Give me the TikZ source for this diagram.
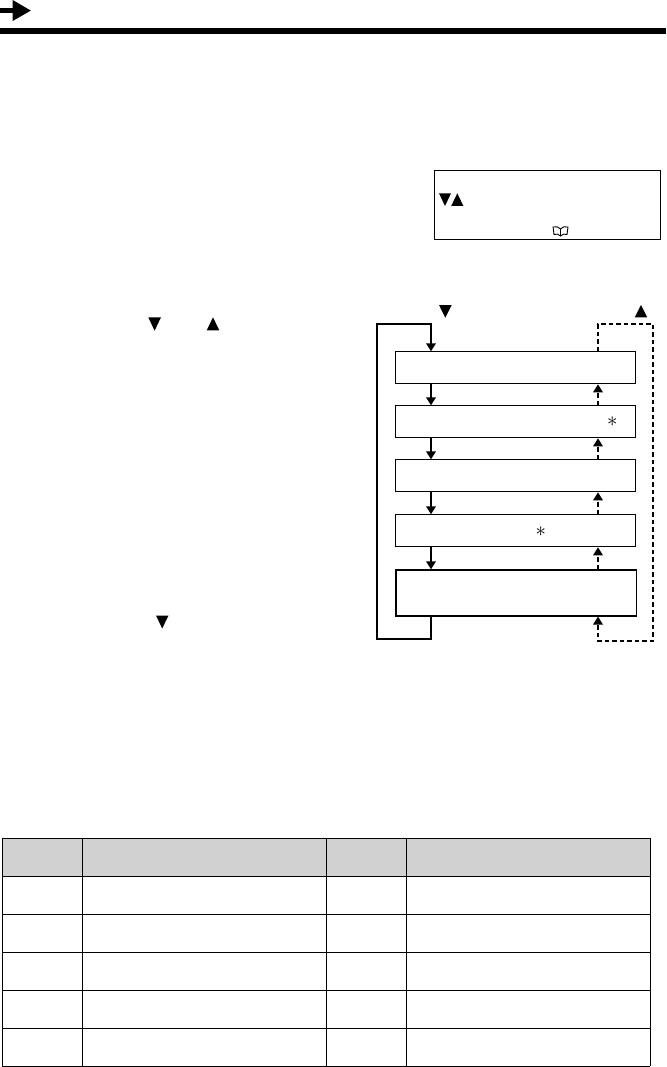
\documentclass[tikz,border=0pt]{standalone}
\usetikzlibrary{arrows.meta}
\tikzset{
  flowbox/.style={draw,line width=1pt,minimum width=240pt,minimum height=32pt,inner sep=0pt,anchor=north west},
  tri/.style={fill=black,draw=none},
  solidarrow/.style={line width=2pt,-{Triangle[width=9.5pt,length=8pt]}},
  dashpath/.style={line width=1.7pt,dash pattern=on 4.5pt off 3pt},
  dasharrow/.style={dashpath,-{Triangle[width=9.5pt,length=8pt]}},
  grid/.style={line width=1.1pt},
  star/.style={inner sep=0pt,font=\fontsize{22}{22}\selectfont}
}
\begin{document}
\begin{tikzpicture}[x=1pt,y=-1pt]
\useasboundingbox (0,0) rectangle (666,1067);
% header
\fill (0,8) rectangle (13,13.4);
\fill[tri] (12.7,0) -- (30.8,10.6) -- (12.7,21) -- cycle;
\fill (0,28.3) rectangle (666,34.4);
% info box
\draw[line width=1pt] (434.3,170.3) rectangle (660.7,240);
\fill[tri] (439,193.3) -- (451,193.3) -- (445,206) -- cycle;
\fill[tri] (451.2,206) -- (463.4,206) -- (457.3,193.3) -- cycle;
\draw[line width=.9pt,fill=white] (553,227) .. controls (556,226) and (559,227) .. (560.5,229)
  .. controls (562,227) and (565,226) .. (568,227) -- (567,234.5) .. controls (565,233.5) and (562,234) .. (560.5,236)
  .. controls (559,234) and (556,233.5) .. (554,234.5) -- cycle (560.5,229) -- (560.5,236);
% step triangles
\fill[tri] (148.3,317.3) -- (161,317.3) -- (154.6,330.7) -- cycle;
\fill[tri] (206.7,330.4) -- (219.3,330.4) -- (213,317.3) -- cycle;
\fill[tri] (156,615.5) -- (168.5,615.5) -- (162.2,628.5) -- cycle;
% flow
\fill[tri] (439,305) -- (451.7,305) -- (445.3,317.7) -- cycle;
\fill[tri] (634.7,317.4) -- (647.3,317.4) -- (641,305) -- cycle;
\node[flowbox] (b1) at (395.3,351.3) {};
\node[flowbox] (b2) at (395.3,405.3) {};
\node[flowbox] (b3) at (395.3,459.3) {};
\node[flowbox] (b4) at (395.3,514.3) {};
\node[flowbox,line width=1.25pt,minimum width=240.8pt,minimum height=46pt] (b5) at (395.3,569.3) {};
\node[star] (s1) at (612.3,422) {$\ast$};
\node[star] (s2) at (540.7,531.7) {$\ast$};
\coordinate (lx) at (431,324.3);
\coordinate (rx) at (598,324.3);
\coordinate (lb) at (431,638.7);
\coordinate (rb) at (598,641);
\coordinate (farl) at (376.7,0);
\coordinate (farr) at (653,0);
% solid connectors
\draw[solidarrow] (lb |- b5.south) -- (lb) -- (farl |- lb) -- (farl |- lx) -- (lx) -- (lx |- b1.north);
\draw[solidarrow] (lx |- b1.south) -- (lx |- b2.north);
\draw[solidarrow] (lx |- b2.south) -- (lx |- b3.north);
\draw[solidarrow] (lx |- b3.south) -- (lx |- b4.north);
\draw[solidarrow] (lx |- b4.south) -- (lx |- b5.north);
% dashed connectors
\draw[dasharrow] (rx |- b2.north) -- (rx |- b1.south);
\draw[dasharrow] (rx |- b3.north) -- (rx |- b2.south);
\draw[dasharrow] (rx |- b4.north) -- (rx |- b3.south);
\draw[dasharrow] (rx |- b5.north) -- (rx |- b4.south);
\draw[dasharrow] (rx |- b1.north) -- (rx) -- (farr |- rx) -- (farr |- rb) -- (rb) -- (rx |- b5.south);
% table
\fill[black!18] (2.3,838.3) rectangle (650.3,876.3);
\foreach \yy in {838.3,876.3,914.3,952.3,990.3,1028.3,1066.3}
  \draw[grid] (2.3,\yy) -- (650.3,\yy);
\foreach \xx in {2.3,82.3,326.3,406.3,650.3}
  \draw[grid] (\xx,838.3) -- (\xx,1066.3);
\end{tikzpicture}
\end{document}
